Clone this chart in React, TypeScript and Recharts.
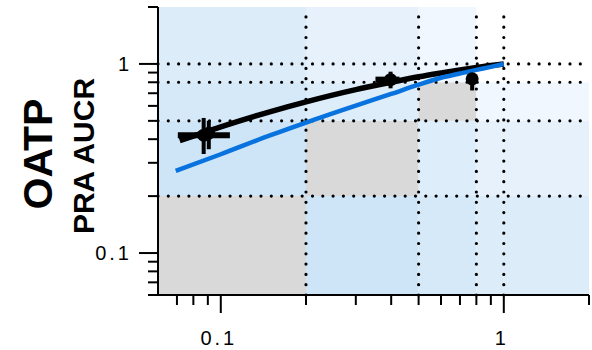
import React from "react";
import {
  ComposedChart,
  XAxis,
  YAxis,
  Line,
  Scatter,
  ErrorBar,
  ReferenceArea,
  ReferenceLine,
} from "recharts";

// zone edges, shared by both axes
const binEdges = [0.06, 0.2, 0.5, 0.8, 1, 2];
// rows bottom -> top, columns left -> right
const cellColors = [
  ["#d9d9d9", "#cde5f7", "#d5e9f8", "#dcecf9", "#dcecf9"],
  ["#cde5f7", "#d9d9d9", "#ddedfa", "#e6f1fb", "#e6f1fb"],
  ["#d5e9f8", "#ddedfa", "#d9d9d9", "#f1f7fe", "#f1f7fe"],
  ["#dcecf9", "#e6f1fb", "#f1f7fe", "#ffffff", "#ffffff"],
  ["#dcecf9", "#e6f1fb", "#f1f7fe", "#ffffff", "#ffffff"],
];
const guideValues = [0.2, 0.5, 0.8, 1];

const xTicks = [0.07, 0.08, 0.09, 0.1, 0.2, 0.3, 0.4, 0.5, 0.6, 0.7, 0.8, 0.9, 1, 2];
const yTicks = [0.06, 0.07, 0.08, 0.09, 0.1, 0.2, 0.3, 0.4, 0.5, 0.6, 0.7, 0.8, 0.9, 1, 2];
const tickLabels: Record<string, string> = { "0.1": "0.1", "1": "1" };

// predicted curves
const blackX = [0.0716, 0.1, 0.15, 0.2, 0.3, 0.4, 0.5, 0.6, 0.7, 0.8, 0.9, 1];
const blackY = [0.393, 0.465, 0.56, 0.63, 0.731, 0.8, 0.855, 0.896, 0.93, 0.957, 0.981, 1];
const blueX = [0.0693, 0.1, 0.15, 0.2, 0.3, 0.4, 0.5, 0.6, 0.7, 0.8, 0.9, 1];
const blueY = [0.272, 0.333, 0.42, 0.49, 0.602, 0.694, 0.777, 0.845, 0.89, 0.93, 0.965, 1];

// observed points
const obsX = [0.087, 0.0907, 0.398, 0.773];
const obsY = [0.42, 0.43, 0.826, 0.834];
const obsXLow = [0.0165, 0, 0.046, 0];
const obsXHigh = [0.0207, 0, 0.03, 0];
const obsYLow = [0.086, 0.076, 0.083, 0.11];
const obsYHigh = [0.098, 0.071, 0.084, 0.02];

const blackData = blackX.map((x, i) => ({ x, y: blackY[i] }));
const blueData = blueX.map((x, i) => ({ x, y: blueY[i] }));
const obsData = obsX.map((x, i) => ({
  x,
  y: obsY[i],
  ex: [obsXLow[i], obsXHigh[i]],
  ey: [obsYLow[i], obsYHigh[i]],
}));

const FONT = "'Liberation Sans', Arial, sans-serif";

const XTick = (props: any) => {
  const { x, y, payload } = props;
  const label = tickLabels[String(payload.value)];
  return (
    <g>
      <line x1={x} x2={x} y1={y} y2={y + (label ? 18 : 10)} stroke="#000" strokeWidth={2} />
      {label && (
        <text x={x - 2} y={y + 50} textAnchor="middle" fontSize={20} letterSpacing={3} fontFamily={FONT} fill="#000">
          {label}
        </text>
      )}
    </g>
  );
};

const YTick = (props: any) => {
  const { x, y, payload } = props;
  const label = tickLabels[String(payload.value)];
  return (
    <g>
      <line x1={x - (label ? 19 : 10)} x2={x} y1={y} y2={y} stroke="#000" strokeWidth={2} />
      {label && (
        <text x={x - 26} y={y + 7} textAnchor="end" fontSize={20} letterSpacing={3} fontFamily={FONT} fill="#000">
          {label}
        </text>
      )}
    </g>
  );
};

const YTitle = (props: any) => {
  const { viewBox } = props;
  const cy = viewBox.y + viewBox.height / 2 + 3;
  const x1 = viewBox.x + 30;
  const x2 = viewBox.x + 75;
  return (
    <g fontFamily={FONT} fontWeight="bold" fill="#000">
      <text x={x1} y={cy} transform={`rotate(-90, ${x1}, ${cy})`} textAnchor="middle" dominantBaseline="central" fontSize={41}>
        OATP
      </text>
      <text x={x2} y={cy + 2} transform={`rotate(-90, ${x2}, ${cy + 2})`} textAnchor="middle" dominantBaseline="central" fontSize={30}>
        PRA AUCR
      </text>
    </g>
  );
};

const Dot = (props: any) => <circle cx={props.cx} cy={props.cy} r={6.5} fill="#000" />;

export default function App() {
  return (
    <div style={{ position: "absolute", left: 0, top: 0 }}>
      <ComposedChart width={592} height={350} margin={{ top: 7, right: 3, bottom: 0, left: 8 }}>
        <XAxis
          dataKey="x"
          type="number"
          scale="log"
          domain={[0.06, 2]}
          allowDataOverflow
          ticks={xTicks}
          interval={0}
          tickSize={0}
          tickMargin={0}
          tick={<XTick />}
          height={55}
          axisLine={{ stroke: "#000", strokeWidth: 2 }}
        />
        <YAxis
          dataKey="y"
          type="number"
          scale="log"
          domain={[0.06, 2]}
          allowDataOverflow
          ticks={yTicks}
          interval={0}
          tickSize={0}
          tickMargin={0}
          tick={<YTick />}
          width={150}
          axisLine={{ stroke: "#000", strokeWidth: 2 }}
          label={{ content: <YTitle /> }}
        />
        {cellColors.map((row, r) =>
          row.map((color, c) => (
            <ReferenceArea
              key={`cell-${r}-${c}`}
              x1={binEdges[c]}
              x2={binEdges[c + 1]}
              y1={binEdges[r]}
              y2={binEdges[r + 1]}
              fill={color}
              fillOpacity={1}
              stroke="none"
            />
          ))
        )}
        {guideValues.map((v) => (
          <ReferenceLine key={`gx-${v}`} x={v} stroke="#000" strokeWidth={3.2} strokeDasharray="0 10.3" strokeLinecap="round" />
        ))}
        {guideValues.map((v) => (
          <ReferenceLine key={`gy-${v}`} y={v} stroke="#000" strokeWidth={3.2} strokeDasharray="0 10.3" strokeLinecap="round" />
        ))}
        <Line data={blackData} dataKey="y" type="monotone" stroke="#000" strokeWidth={5.5} dot={false} isAnimationActive={false} />
        <Line data={blueData} dataKey="y" type="monotone" stroke="#0872de" strokeWidth={4.5} dot={false} isAnimationActive={false} />
        <Scatter data={obsData} dataKey="y" shape={<Dot />} isAnimationActive={false}>
          <ErrorBar dataKey="ex" direction="x" width={0} stroke="#000" strokeWidth={6} isAnimationActive={false} />
          <ErrorBar dataKey="ey" direction="y" width={0} stroke="#000" strokeWidth={4} isAnimationActive={false} />
        </Scatter>
      </ComposedChart>
    </div>
  );
}
